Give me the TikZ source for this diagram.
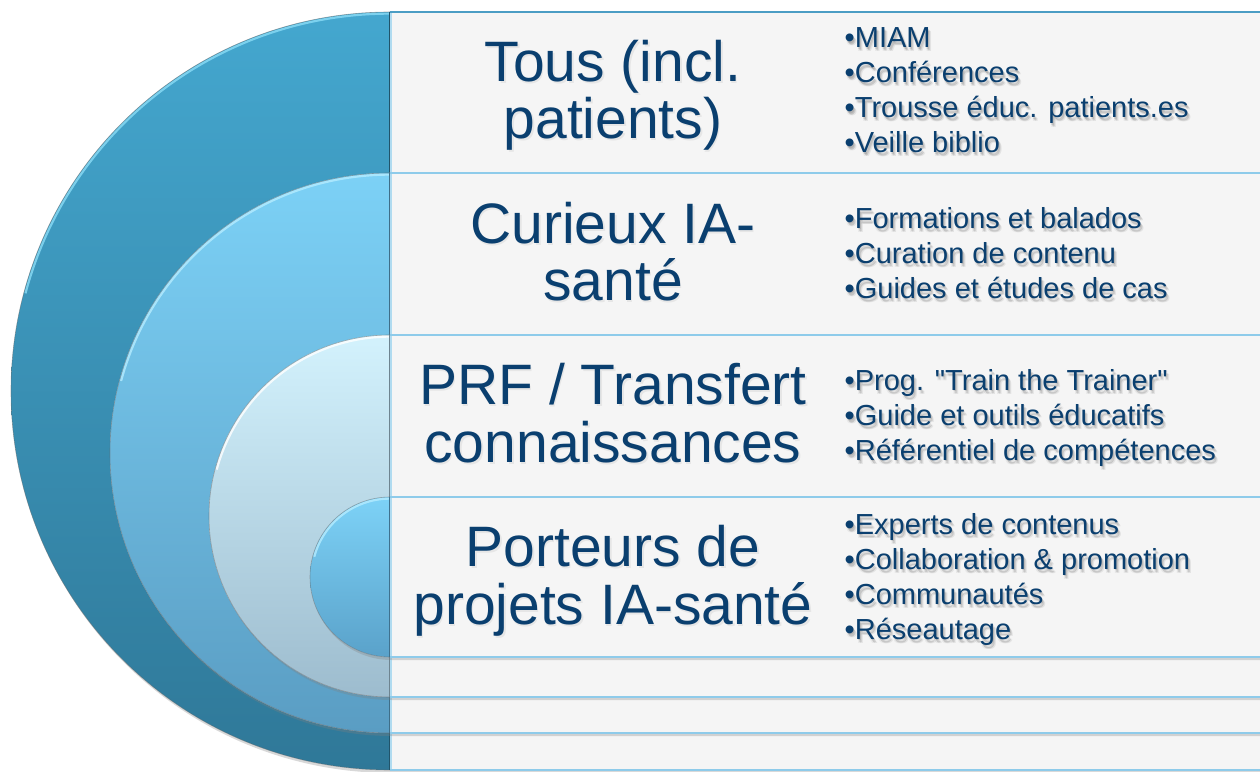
\documentclass[tikz,border=0pt]{standalone}
\usepackage{fontspec}
\setmainfont{Liberation Sans}[Ligatures=TeXOff]
\usetikzlibrary{shadows}
\definecolor{txt}{HTML}{0A3F6F}
\definecolor{panel}{HTML}{F5F5F5}
\definecolor{sepline}{HTML}{8ECBEA}
\definecolor{topline}{HTML}{4B9DC4}
\definecolor{ringAt}{HTML}{44A7CF}
\definecolor{ringAb}{HTML}{2F7898}
\definecolor{ringBt}{HTML}{7CD1F6}
\definecolor{ringBb}{HTML}{5A9DC3}
\definecolor{ringCt}{HTML}{D3F2FD}
\definecolor{ringCb}{HTML}{9DBCCE}
\definecolor{ringDt}{HTML}{7DD2F7}
\definecolor{ringDb}{HTML}{5AA2CA}
\definecolor{hiA}{HTML}{8ADCF6}
\definecolor{hiB}{HTML}{B5ECFF}
\definecolor{hiC}{HTML}{FFFFFF}
\definecolor{hiD}{HTML}{B5ECFF}
\tikzset{
  layershadow/.style={drop shadow={shadow xshift=1.5pt,shadow yshift=-3pt,opacity=.3}},
  bigtext/.style={text=txt,align=center,inner sep=0pt,font=\fontsize{57}{57.5}\selectfont},
  listtext/.style={text=txt,align=left,inner sep=0pt,anchor=west,font=\fontsize{29}{35}\selectfont},
  listshadow/.style={text=black,opacity=#1,align=left,inner sep=0pt,anchor=west,font=\fontsize{29}{35}\selectfont},
  bigshadow/.style={text=black,opacity=.06,align=center,inner sep=0pt,font=\fontsize{57}{57.5}\selectfont}
}
% #1 centre y, #2 radius, #3 top colour, #4 bottom colour, #5 highlight, #6 top line colour
\newcommand\drawlayer[6]{%
  \path[fill=panel,layershadow] (390,#1+#2) arc[start angle=90,end angle=270,radius=#2]
     -- (1260,#1-#2) -- (1260,#1+#2) -- cycle;
  \shade[top color=#3,bottom color=#4] (390,#1+#2) arc[start angle=90,end angle=270,radius=#2] -- cycle;
  \draw[#5,line width=2.2pt,opacity=.8] (390,#1+#2-1.6) arc[start angle=90,end angle=165,radius=#2-1.6];
  \draw[black!60,line width=.6pt,opacity=.5] (390,#1+#2) arc[start angle=90,end angle=270,radius=#2];
  \draw[#4!70!black,line width=1.2pt] (389.4,#1+#2) -- (389.4,#1-#2);
  \draw[sepline!70!white,line width=1.5pt] (391,#1+#2) -- (391,#1-#2);
  \draw[#6,line width=2pt] (390,#1+#2) -- (1260,#1+#2);
  \draw[sepline,line width=2pt] (390,#1-#2) -- (1260,#1-#2);
}
% list with soft shadow: #1 name, #2 x, #3 y, #4 text
\newcommand\softlist[4]{%
  \node[listshadow=.09] at (#2+1,#3-1.5) {#4};
  \node[listshadow=.09] at (#2+2,#3-2.8) {#4};
  \node[listshadow=.07] at (#2+3,#3-4) {#4};
  \node[listshadow=.05] at (#2+1,#3-4) {#4};
  \node[listtext] (#1) at (#2,#3) {#4};
}
\begin{document}
\begin{tikzpicture}[x=1pt,y=1pt]
\useasboundingbox (0,0) rectangle (1260,771);
\fill[white] (0,0) rectangle (1260,771);

\drawlayer{380}{379}{ringAt}{ringAb}{hiA}{topline}
\drawlayer{318}{280}{ringBt}{ringBb}{hiB}{sepline}
\drawlayer{255}{181}{ringCt}{ringCb}{hiC}{sepline}
\drawlayer{194}{80}{ringDt}{ringDb}{hiD}{sepline}

% main labels
\node[bigshadow] at (614.5,673.5) {Tous (incl.\\patients)};
\node[bigtext] (l1) at (613,675.5) {Tous (incl.\\patients)};
\node[bigshadow] at (614.5,517.5) {Curieux IA-\\santé};
\node[bigtext] (l2) at (613,519.5) {Curieux IA-\\santé};
\node[bigshadow] at (614.5,356) {PRF / Transfert\\connaissances};
\node[bigtext] (l3) at (613,358) {PRF / Transfert\\connaissances};
\node[bigshadow] at (614.5,188) {Porteurs de\\projets IA-santé};
\node[bigtext] (l4) at (613,190) {Porteurs de\\projets IA-santé};

% lists
\softlist{b1}{844.5}{680.7}{•MIAM\\•Conférences\\•Trousse éduc. patients.es\\•Veille biblio}
\softlist{b2}{844.5}{518}{•Formations et balados\\•Curation de contenu\\•Guides et études de cas}
\softlist{b3}{844.5}{353}{•Prog. "Train the Trainer"\\•Guide et outils éducatifs\\•Référentiel de compétences}
\softlist{b4}{844.5}{191.7}{•Experts de contenus\\•Collaboration \& promotion\\•Communautés\\•Réseautage}
\end{tikzpicture}
\end{document}
